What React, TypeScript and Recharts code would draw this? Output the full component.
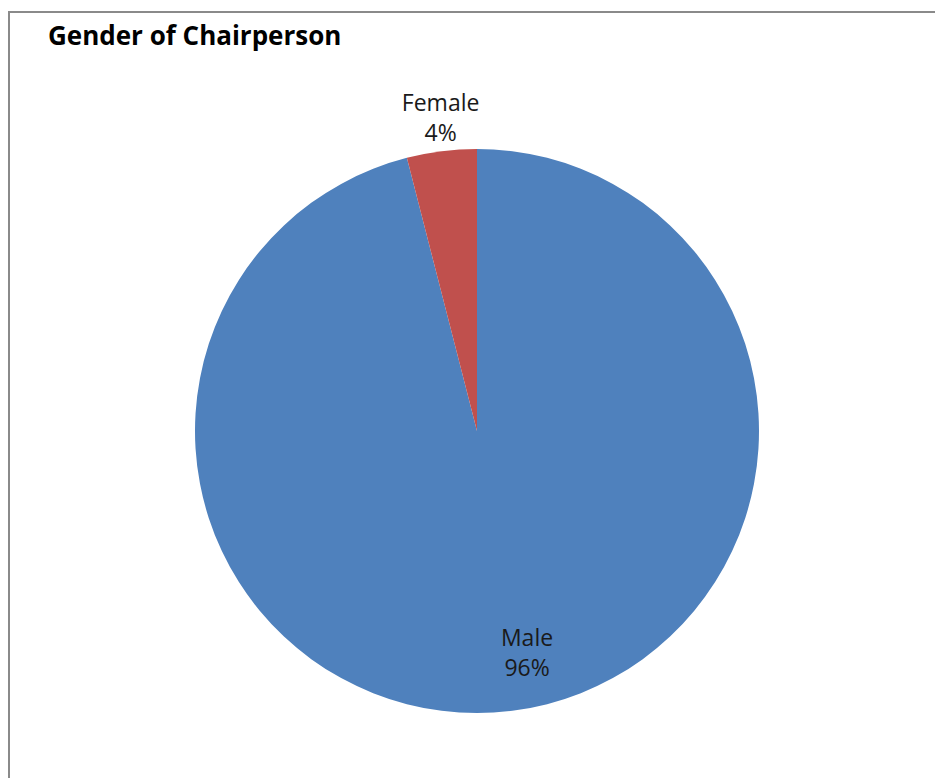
import React from "react";
import { PieChart, Pie, Cell } from "recharts";

const categories = ["Male", "Female"];
const shares = [96, 4];
const colors = ["#4F81BD", "#C0504D"];
// label placement: radius factor relative to outer radius, angle nudge in degrees
const labelPlacement = [
  { rFactor: 0.833, angleNudge: 5.1 },
  { rFactor: 1.09, angleNudge: -0.4 },
];

const data = categories.map((name, i) => ({ name, value: shares[i] }));

const RAD = Math.PI / 180;
const FONT = "'Open Sans', 'Noto Sans', sans-serif";

const renderLabel = (props: any) => {
  const { cx, cy, midAngle, outerRadius, index, percent, name } = props;
  const p = labelPlacement[index];
  const a = (midAngle + p.angleNudge) * RAD;
  const r = outerRadius * p.rFactor;
  const x = cx + r * Math.cos(a);
  const y = cy - r * Math.sin(a);
  return (
    <text
      x={x}
      y={y}
      textAnchor="middle"
      fill="#1a1a1a"
      style={{ fontFamily: FONT, fontSize: 23 }}
    >
      <tspan x={x} dy={-15}>{name}</tspan>
      <tspan x={x} dy={30.5}>{`${Math.round(percent * 100)}%`}</tspan>
    </text>
  );
};

export default function App() {
  return (
    <div style={{ position: "absolute", left: 0, top: 0, width: 935, height: 778, background: "#fff", overflow: "hidden" }}>
      <div
        style={{
          position: "absolute",
          left: 8,
          top: 11,
          width: 950,
          height: 800,
          borderLeft: "2px solid #8a8a8a",
          borderTop: "2px solid #8a8a8a",
        }}
      />
      <div style={{ position: "absolute", left: 0, top: 0 }}>
        <PieChart width={935} height={778} margin={{ top: 0, right: 0, bottom: 0, left: 0 }}>
          <text
            x={48}
            y={45}
            fill="#000"
            style={{ fontFamily: FONT, fontWeight: 700, fontSize: 26 }}
          >
            Gender of Chairperson
          </text>
          <Pie
            data={data}
            dataKey="value"
            nameKey="name"
            cx={477}
            cy={431}
            outerRadius={282}
            startAngle={90}
            endAngle={-270}
            stroke="none"
            isAnimationActive={false}
            labelLine={false}
            label={renderLabel}
          >
            {data.map((d, i) => (
              <Cell key={d.name} fill={colors[i]} />
            ))}
          </Pie>
        </PieChart>
      </div>
    </div>
  );
}
